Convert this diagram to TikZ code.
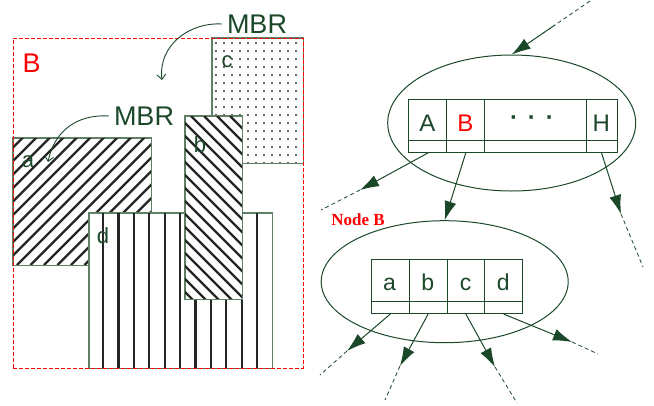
\documentclass[tikz,border=0pt]{standalone}
\usepackage{fontspec}
\setmainfont{Liberation Sans}
\newfontfamily\serifbf{Liberation Serif}
\usetikzlibrary{arrows.meta,shapes.geometric}
\definecolor{dk}{RGB}{28,72,42}
\definecolor{bd}{RGB}{95,128,100}
\definecolor{dotc}{RGB}{50,50,50}
\begin{document}
\begin{tikzpicture}[x=1pt,y=-1pt,
  region/.style={draw=bd, line width=0.9pt, fill=white, rectangle, inner sep=0pt},
  rlbl/.style={text=dk, font=\fontsize{22}{26}\selectfont, anchor=base, inner sep=0pt},
  tlbl/.style={text=dk, font=\fontsize{24}{28}\selectfont, anchor=base, inner sep=0pt},
  cell/.style={draw=dk, line width=0.8pt, rectangle, inner sep=0pt, anchor=north west},
  oval/.style={draw=dk, line width=1pt, ellipse, inner sep=0pt},
  arr/.style={draw=dk, line width=1pt, -{Latex[length=19pt,width=12pt]}},
  dsh/.style={draw=dk, line width=0.8pt, dash pattern=on 4pt off 3pt},
  hatch/.style={line width=2.2pt, draw=black!85},
  mbr/.style={text=dk, font=\fontsize{27}{31}\selectfont, inner ysep=0pt, inner xsep=5pt},
  curvearr/.style={draw=dk, line width=0.9pt, -{Straight Barb[length=5pt,width=9pt]}}
]
\useasboundingbox (0,0) rectangle (654,405);

% ---------- left: regions ----------
% c (dotted)
\node[region, minimum width=91pt, minimum height=125pt] (rc) at (257.5,100.5) {};
\begin{scope}
  \clip (rc.north west) rectangle (rc.south east);
  \foreach \i in {0,...,11} \foreach \j in {0,...,16}
    \fill[dotc] ({216+\i*8},{43+\j*8}) circle (1.1pt);
\end{scope}
\draw[bd, line width=0.9pt] (rc.north west) rectangle (rc.south east);

% a (/ hatch)
\node[region, minimum width=138pt, minimum height=127pt] (ra) at (82,201.5) {};
\begin{scope}
  \clip (ra.north west) rectangle (ra.south east);
  \foreach \k in {0,...,21} \draw[hatch] ({-118+\k*13.5},265) -- ++(130,-130);
\end{scope}
\draw[bd, line width=0.9pt] (ra.north west) rectangle (ra.south east);

% d (vertical lines)
\node[region, minimum width=183pt, minimum height=155pt] (rd) at (180.5,290.5) {};
\foreach \k in {0,...,10} \draw[hatch] ({103+\k*15.4},213) -- ({103+\k*15.4},368);
\draw[bd, line width=0.9pt] (rd.north west) rectangle (rd.south east);

% b (\ hatch)
\node[region, minimum width=57pt, minimum height=183pt] (rb) at (213.5,207.5) {};
\begin{scope}
  \clip (rb.north west) rectangle (rb.south east);
  \foreach \k in {0,...,20} \draw[hatch] ({-4+\k*13},116) -- ++(190,190);
\end{scope}
\draw[bd, line width=0.9pt] (rb.north west) rectangle (rb.south east);

% region labels
\node[rlbl] (la) at (28,167) {a};
\node[rlbl] (lb) at (200,152) {b};
\node[rlbl] (lc) at (227,67) {c};
\node[rlbl] (ld) at (103,243) {d};

% MBR B
\node[draw=red, dash pattern=on 4pt off 2pt, line width=0.8pt, rectangle, inner sep=0pt,
      minimum width=290pt, minimum height=330pt] (rB) at (158,203) {};
\node[text=red, font=\fontsize{27}{32}\selectfont, anchor=base, inner sep=0pt] (lB) at (31.7,72) {B};

% MBR labels and curved arrows
\node[mbr] (m1) at (257,24) {MBR};
\node[mbr] (m2) at (144,116) {MBR};
\coordinate (m1t) at (162,80);
\coordinate (m2t) at (48,162);
\draw[curvearr] (m1.west) .. controls (190,22) and (158,45) .. (m1t);
\draw[curvearr] (m2.west) .. controls (76,114) and (54,132) .. (m2t);

% ---------- right: top node ----------
\node[oval, minimum width=248pt, minimum height=136pt] (E1) at (511.7,123) {};
\node[cell, minimum width=38pt, minimum height=41.3pt] (cA) at (408.3,98.7) {};
\node[cell, minimum width=38pt, minimum height=41.3pt] (cB) at (446.3,98.7) {};
\node[cell, minimum width=101.4pt, minimum height=41.3pt] (cD) at (484.3,98.7) {};
\node[cell, minimum width=31pt, minimum height=41.3pt] (cH) at (585.7,98.7) {};
\node[cell, minimum width=38pt, minimum height=12.3pt] (pA) at (408.3,140) {};
\node[cell, minimum width=38pt, minimum height=12.3pt] (pB) at (446.3,140) {};
\node[cell, minimum width=101.4pt, minimum height=12.3pt] (pD) at (484.3,140) {};
\node[cell, minimum width=31pt, minimum height=12.3pt] (pH) at (585.7,140) {};
\node[tlbl] (tA) at (427.3,131) {A};
\node[tlbl, text=red] (tB) at (465.3,131) {B};
\node[tlbl, font=\bfseries\fontsize{24}{28}\selectfont] (tD) at (532,125) {·\hspace{10pt}·\hspace{10pt}·};
\node[tlbl] (tH) at (601.2,131) {H};

% incoming arrow
\coordinate (in0) at (590,1);
\coordinate (in1) at (555,25);
\draw[dsh] (in0) -- (in1);
\draw[arr] (in1) -- (E1.north);

% ---------- right: Node B ----------
\node[text=red, font=\serifbf\bfseries\fontsize{17}{20}\selectfont, anchor=base, inner sep=0pt] (nB) at (358,225) {Node B};
\node[oval, minimum width=247pt, minimum height=122pt] (E2) at (444.7,281.7) {};
\node[cell, minimum width=37.7pt, minimum height=41.7pt] (ca) at (371,259.3) {};
\node[cell, minimum width=38pt, minimum height=41.7pt] (cb) at (408.7,259.3) {};
\node[cell, minimum width=37.6pt, minimum height=41.7pt] (cc) at (446.7,259.3) {};
\node[cell, minimum width=38pt, minimum height=41.7pt] (cd) at (484.3,259.3) {};
\node[cell, minimum width=37.7pt, minimum height=12.3pt] (pa) at (371,301) {};
\node[cell, minimum width=38pt, minimum height=12.3pt] (pb) at (408.7,301) {};
\node[cell, minimum width=37.6pt, minimum height=12.3pt] (pc) at (446.7,301) {};
\node[cell, minimum width=38pt, minimum height=12.3pt] (pd) at (484.3,301) {};
\node[tlbl, font=\fontsize{23}{27}\selectfont] (ta) at (389.5,290) {a};
\node[tlbl, font=\fontsize{23}{27}\selectfont] (tb) at (427.7,290) {b};
\node[tlbl, font=\fontsize{23}{27}\selectfont] (tc) at (465.5,290) {c};
\node[tlbl, font=\fontsize{23}{27}\selectfont] (td) at (503.3,290) {d};

% arrows from top node
\draw[arr] (pB.south) -- (E2.north);
\coordinate (tipA) at (360,190);   \coordinate (endA) at (321,210);
\coordinate (tipH) at (621,214);   \coordinate (endH) at (643,267);
\draw[arr] (pA.south) -- (tipA);  \draw[dsh] (tipA) -- (endA);
\draw[arr] (pH.south) -- (tipH);  \draw[dsh] (tipH) -- (endH);

% arrows from Node B
\coordinate (tipa) at (347,351);   \coordinate (enda) at (320,375);
\coordinate (tipb) at (400,366);   \coordinate (endb) at (385,400);
\coordinate (tipc) at (495,367);   \coordinate (endc) at (517,403);
\coordinate (tipd) at (572,342);   \coordinate (endd) at (598,354);
\draw[arr] (pa.south) -- (tipa);  \draw[dsh] (tipa) -- (enda);
\draw[arr] (pb.south) -- (tipb);  \draw[dsh] (tipb) -- (endb);
\draw[arr] (pc.south) -- (tipc);  \draw[dsh] (tipc) -- (endc);
\draw[arr] (pd.south) -- (tipd);  \draw[dsh] (tipd) -- (endd);
\end{tikzpicture}
\end{document}
